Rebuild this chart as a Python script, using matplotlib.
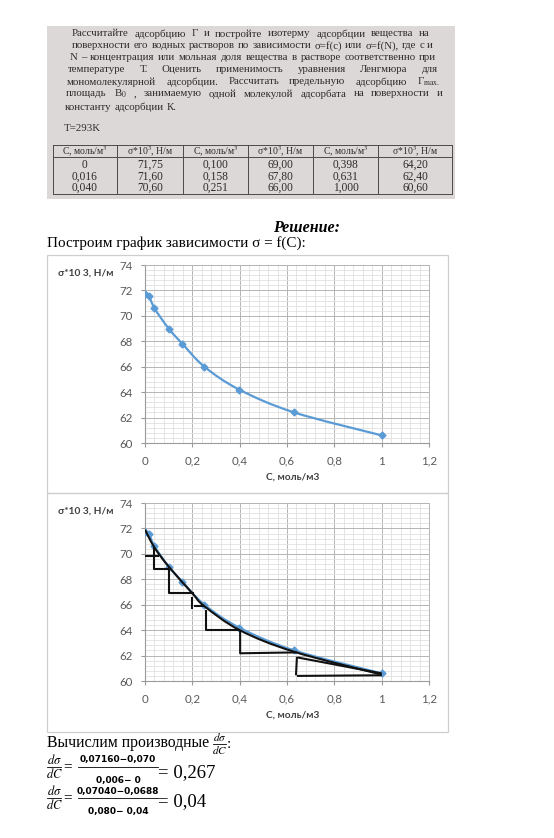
import numpy as np
import matplotlib
matplotlib.use("Agg")
import matplotlib.pyplot as plt
from matplotlib.patches import Rectangle, PathPatch
from matplotlib.lines import Line2D
from matplotlib.path import Path
from matplotlib.ticker import MultipleLocator, FixedLocator

plt.rcParams['mathtext.fontset'] = 'stix'

# data from the table
conc = [0, 0.016, 0.040, 0.100, 0.158, 0.251, 0.398, 0.631, 1.000]
sigma = [71.75, 71.60, 70.60, 69.00, 67.80, 66.00, 64.20, 62.40, 60.60]

# hand drawn black curve on second chart
hand_c = [0, 0.04, 0.10, 0.20, 0.25, 0.40, 0.63, 1.00]
hand_s = [71.9, 70.5, 69.0, 66.9, 65.9, 64.0, 62.3, 60.5]

# hand drawn step lines (x list, y list)
steps = [
    ([0, 0.06], [69.85, 69.85]),
    ([0.038, 0.038, 0.10], [70.6, 68.8, 68.8]),
    ([0.103, 0.103, 0.205], [68.96, 66.96, 66.96]),
    ([0.20, 0.20], [66.6, 65.7]),
    ([0.207, 0.254], [65.86, 65.86]),
    ([0.258, 0.258, 0.40], [65.6, 64.0, 64.0]),
    ([0.402, 0.402, 0.642], [64.0, 62.18, 62.25]),
    ([0.642, 0.638], [61.9, 60.45]),
    ([0.642, 1.0], [60.4, 60.45]),
    ([0.645, 1.0], [61.85, 60.6]),
]

task_lines = [
    "Рассчитайте адсорбцию Г и постройте изотерму адсорбции вещества на",
    "поверхности его водных растворов по зависимости σ=f(c) или σ=f(N), где c и",
    "N – концентрация или мольная доля вещества в растворе соответственно при",
    "температуре Т. Оценить применимость уравнения Ленгмюра для",
    "мономолекулярной адсорбции. Рассчитать предельную адсорбцию Г$_{\\mathrm{max.}}$",
    "площадь B$_0$ , занимаемую одной молекулой адсорбата на поверхности и",
    "константу адсорбции К.",
]

W, H = 554, 838
fig = plt.figure(figsize=(W / 100, H / 100), dpi=100)


def fx(x):
    return x / W


def fy(y):
    return 1 - y / H


def line(xs, ys, **kw):
    fig.add_artist(Line2D([fx(v) for v in xs], [fy(v) for v in ys], **kw))


serif = ['Liberation Serif', 'DejaVu Serif']
calib = ['Lato', 'Open Sans', 'DejaVu Sans']
ink = '#2e2b2b'

# photo of the task
fig.patches.append(Rectangle((fx(47), fy(199)), (455 - 47) / W, (199 - 26) / H,
                             transform=fig.transFigure, facecolor='#dbd8d7', edgecolor='none'))

renderer = fig.canvas.get_renderer()


def justify(text, x0, x1, y, last=False, **kw):
    words = text.split()
    objs = [fig.text(0, fy(y), w, va='center', ha='left', **kw) for w in words]
    widths = [o.get_window_extent(renderer).width for o in objs]
    if last or len(words) == 1:
        gap = 3.0
    else:
        gap = (x1 - x0 - sum(widths)) / (len(words) - 1)
    x = x0
    for o, w in zip(objs, widths):
        o.set_x(fx(x))
        x += w + gap


line_y = [34, 46, 58, 70, 82, 94, 107]
line_x0 = [72, 72, 70, 68, 67, 66, 65]
line_x1 = [430, 433, 436, 438, 440, 443, 443]
for i, t in enumerate(task_lines):
    justify(t, line_x0[i], line_x1[i], line_y[i], last=(i == len(task_lines) - 1),
            family=serif, fontsize=7.8, color=ink)
fig.text(fx(64), fy(128), "T=293K", family=serif, fontsize=7.8, color=ink, va='center')

# table in the photo
col_x = [53, 117, 183, 248, 313, 378, 452]
tab_top, tab_head, tab_bot = 145, 157, 194
for x in col_x:
    line([x, x], [tab_top, tab_bot], color='#4a4a4a', lw=0.7)
for y in [tab_top, tab_head, tab_bot]:
    line([col_x[0], col_x[-1]], [y, y], color='#4a4a4a', lw=0.7)
heads = ["С, моль/м$^3$", "σ*10$^3$, Н/м"] * 3
for j in range(6):
    xc = (col_x[j] + col_x[j + 1]) / 2
    fig.text(fx(xc), fy(151.5), heads[j], family=serif, fontsize=7.0, color=ink,
             ha='center', va='center')
row_y = [164.5, 176.5, 188]
for k in range(9):
    grp, r = divmod(k, 3)
    cs = '0' if conc[k] == 0 else f"{conc[k]:.3f}".replace('.', ',')
    ss = f"{sigma[k]:.2f}".replace('.', ',')
    xc = (col_x[2 * grp] + col_x[2 * grp + 1]) / 2
    xs = (col_x[2 * grp + 1] + col_x[2 * grp + 2]) / 2
    fig.text(fx(xc), fy(row_y[r]), cs, family=serif, fontsize=8.3, color=ink, ha='center', va='center')
    fig.text(fx(xs), fy(row_y[r]), ss, family=serif, fontsize=8.3, color=ink, ha='center', va='center')

# solution header
fig.text(fx(307), fy(228), "Решение:", family=serif, fontsize=11.5, fontweight='bold',
         fontstyle='italic', ha='center', va='center')
fig.text(fx(47), fy(243), "Построим график зависимости σ = f(C):", family=serif,
         fontsize=10.9, ha='left', va='center')


def smooth(ax, x, y, **kw):
    P = np.column_stack([x, y])
    verts = [P[0]]
    codes = [Path.MOVETO]
    n = len(P)
    for i in range(n - 1):
        p0 = P[i - 1] if i > 0 else P[i]
        p3 = P[i + 2] if i + 2 < n else P[i + 1]
        verts += [P[i] + (P[i + 1] - p0) / 6, P[i + 1] - (p3 - P[i]) / 6, P[i + 1]]
        codes += [Path.CURVE4] * 3
    ax.add_patch(PathPatch(Path(verts, codes), fill=False, **kw))


def chart(top, bot):
    fig.patches.append(Rectangle((fx(47), fy(bot)), (448 - 47) / W, (bot - top) / H,
                                 transform=fig.transFigure, facecolor='none',
                                 edgecolor='#cfcfcf', lw=0.9))
    y0 = top + 10
    y1 = y0 + 178
    ax = fig.add_axes([fx(145), fy(y1), (429 - 145) / W, 178 / H])
    ax.set_xlim(0, 1.2)
    ax.set_ylim(60, 74)
    ax.xaxis.set_major_locator(FixedLocator([0, 0.2, 0.4, 0.6, 0.8, 1.0, 1.2]))
    ax.set_xticklabels(['0', '0,2', '0,4', '0,6', '0,8', '1', '1,2'])
    ax.yaxis.set_major_locator(MultipleLocator(2))
    ax.xaxis.set_minor_locator(MultipleLocator(0.04))
    ax.yaxis.set_minor_locator(MultipleLocator(0.4))
    ax.grid(which='major', color='#b5b5b5', lw=0.7)
    ax.grid(which='minor', color='#e0e0e0', lw=0.6)
    ax.set_axisbelow(True)
    for s in ['top', 'right']:
        ax.spines[s].set_color('#b5b5b5')
        ax.spines[s].set_linewidth(0.7)
    for s in ['left', 'bottom']:
        ax.spines[s].set_color('#9a9a9a')
        ax.spines[s].set_linewidth(0.8)
    ax.tick_params(which='major', length=3, color='#9a9a9a', labelsize=8.3, labelcolor='#595959', pad=6)
    ax.tick_params(which='minor', length=0)
    for lb in ax.get_xticklabels() + ax.get_yticklabels():
        lb.set_family(calib)
    fig.text(fx(86), fy(top + 18), "σ*10 3, Н/м", family=calib, fontsize=7.3,
             fontweight='bold', color='#404040', ha='center', va='center')
    fig.text(fx(293), fy(top + 222), "С, моль/м3", family=calib, fontsize=7.3,
             fontweight='bold', color='#404040', ha='center', va='center')
    return ax


blue = '#5b9bd5'
ax1 = chart(255, 493)
smooth(ax1, conc, sigma, edgecolor=blue, lw=1.6, zorder=3)
ax1.plot(conc, sigma, ls='none', marker='D', ms=3.5, color=blue, zorder=4)

ax2 = chart(493, 732)
smooth(ax2, conc, sigma, edgecolor=blue, lw=1.6, zorder=3)
ax2.plot(conc, sigma, ls='none', marker='D', ms=3.5, color=blue, zorder=4)
smooth(ax2, hand_c, hand_s, edgecolor='#111111', lw=1.5, zorder=5)
for xs, ys in steps:
    ax2.plot(xs, ys, color='#111111', lw=1.5, zorder=5, solid_capstyle='butt')

# derivatives
fig.text(fx(47), fy(743), "Вычислим производные", family=serif, fontsize=11.3, va='center')
fig.text(fx(219.5), fy(737), r"$d\sigma$", fontsize=8, ha='center', va='center')
fig.text(fx(219.5), fy(750), r"$dC$", fontsize=8, ha='center', va='center')
line([213, 226], [743.5, 743.5], color='black', lw=0.6)
fig.text(fx(227), fy(744), ":", family=serif, fontsize=11, va='center')

rows = [
    ("0,07160−0,070", "0,006− 0", "= 0,267", 759, 767, 780, 773),
    ("0,07040−0,0688", "0,080− 0,04", "= 0,04", 791, 798, 811, 802),
]
for num, den, res, yn, yb, yd, yr in rows:
    fig.text(fx(54), fy(yb - 7), r"$d\sigma$", fontsize=9, ha='center', va='center')
    fig.text(fx(54), fy(yb + 7), r"$dC$", fontsize=9, ha='center', va='center')
    line([47, 61], [yb, yb], color='black', lw=0.6)
    fig.text(fx(68), fy(yb), "=", family=serif, fontsize=11, ha='center', va='center')
    fig.text(fx(118), fy(yn), num, family=['DejaVu Sans'], fontsize=6.5, fontweight='bold',
             ha='center', va='center')
    fig.text(fx(118), fy(yd), den, family=['DejaVu Sans'], fontsize=6.5, fontweight='bold',
             ha='center', va='center')
    line([78, 158], [yb, yb], color='black', lw=0.6)
    fig.text(fx(158), fy(yr), res, family=serif, fontsize=13.5, ha='left', va='center')

fig.savefig("out.png", dpi=100)
